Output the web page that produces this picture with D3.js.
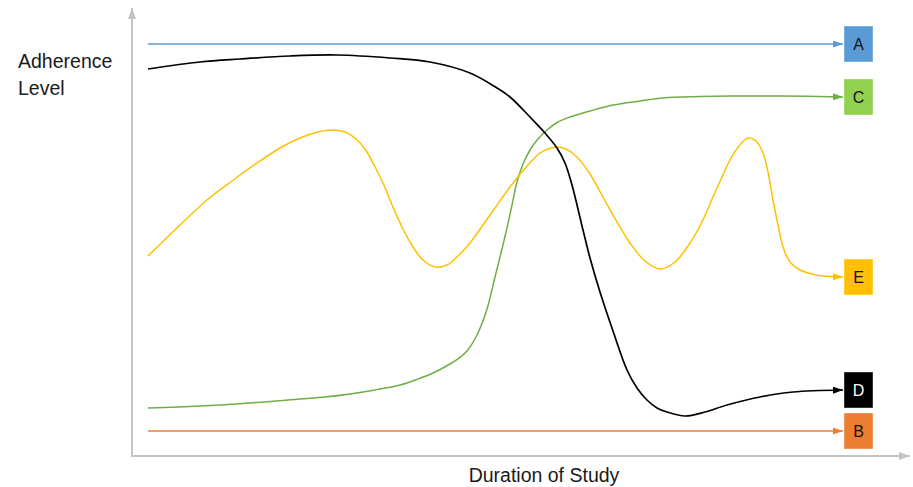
<!DOCTYPE html>
<html>
<head>
<meta charset="utf-8">
<script src="https://cdn.jsdelivr.net/npm/d3@7"></script>
<style>
  html, body { margin: 0; padding: 0; background: #fff; }
  #chart { width: 913px; height: 487px; }
</style>
</head>
<body>
<div id="chart"></div>
<script>
// series values: [time (study weeks), adherence level]
const seriesA = [[0, 103.25], [139, 103.25]];
const seriesB = [[0, 6.5], [139, 6.5]];
const seriesC = [
  [0, 12.25], [10.4, 12.75], [20.4, 13.5], [30.4, 14.5], [35.4, 15], [40.4, 15.75],
  [45.4, 16.75], [50.4, 18], [53.8, 19.4], [57, 21], [60.4, 23.25], [62.4, 24.9],
  [63.8, 26.5], [65.8, 30.5], [67.8, 37], [69.4, 45], [70.4, 50], [71.8, 57.25],
  [72.8, 63], [73.8, 68.75], [75, 73.25], [76.4, 76.75], [78, 79.5], [79.8, 81.75],
  [82, 83.75], [84.4, 85], [88.4, 86.5], [93, 88], [98.4, 89], [103, 89.75],
  [110.4, 90.1], [116.4, 90.25], [126.4, 90.25], [139, 90]
];
const seriesD = [
  [0, 97], [10.4, 98.75], [18.4, 99.5], [28.4, 100.25], [37.8, 100.5], [48.4, 99.75],
  [56.4, 98.75], [64.4, 96], [69.8, 92.25], [72.4, 90], [76.4, 85], [79.4, 81],
  [81.8, 77.25], [83.4, 73.5], [84.8, 68], [87, 56.75], [88.4, 49.75], [90.4, 41.25],
  [93, 31.5], [95.8, 21.75], [97.8, 17.25], [99.8, 14.25], [101.8, 12.25], [103.8, 11.25],
  [107.4, 10.25], [111.4, 11.25], [115.8, 13], [122.4, 15], [129, 16.25], [139, 16.75]
];
const seriesE = [
  [0, 50.25], [6, 57.5], [11.8, 64.25], [16.8, 69], [21.8, 73.5], [26.4, 77.25],
  [30.4, 79.75], [34, 81.25], [36.8, 81.75], [39.4, 81.25], [41.6, 79.5], [43.4, 77],
  [45, 73.5], [47, 68.5], [49, 62.5], [51, 57], [53, 52.5], [55, 49.25],
  [57.4, 47.5], [59.8, 48], [62, 50.25], [64.4, 53.5], [68.4, 60.5], [73, 68.5],
  [76, 73], [78.4, 76], [80, 77], [81.8, 77.5], [83.6, 77], [85.8, 75],
  [88.4, 70.75], [91, 65], [93.8, 58.75], [96.4, 53.5], [99.4, 49], [102.4, 47],
  [105.4, 48.75], [108.4, 53.5], [110.8, 58.75], [113, 65], [114.8, 70], [116.4, 74.25],
  [118.2, 77.75], [120, 79.75], [121.6, 79], [123, 76], [124, 71.25], [125, 64.25],
  [126, 58], [127, 52.5], [128.4, 48.75], [130.4, 46.75], [132.8, 45.75], [135, 45.25],
  [139, 45]
];

const seriesNames = ["A", "C", "E", "D", "B"];
const seriesData = [seriesA, seriesC, seriesE, seriesD, seriesB];
const lineColors = ["#5b9bd5", "#70ad47", "#ffc000", "#000000", "#ed7d31"];
const boxColors = ["#5b9bd5", "#92d050", "#ffc000", "#000000", "#ed7d31"];
const letterColors = ["#111", "#111", "#111", "#fff", "#111"];

const yTitle = ["Adherence", "Level"];
const xTitle = "Duration of Study";

const fullWidth = 913;
const fullHeight = 487;

const svg = d3.select("#chart")
  .append("svg")
  .attr("width", fullWidth)
  .attr("height", fullHeight)
  .style("font-family", "'Liberation Sans', Arial, sans-serif");

const x = d3.scaleLinear().domain([0, 139]).range([148, 843]);
const y = d3.scaleLinear().domain([0, 110]).range([457, 17]);

const axisX0 = 132;
const axisY0 = 456;

// === Markers ===
const defs = svg.append("defs");
seriesNames.forEach((name, i) => {
  defs.append("marker")
    .attr("id", "arrow-" + name)
    .attr("viewBox", "0 0 10 7")
    .attr("refX", 10)
    .attr("refY", 3.5)
    .attr("markerUnits", "userSpaceOnUse")
    .attr("markerWidth", 10)
    .attr("markerHeight", 7)
    .attr("orient", "auto")
    .append("path")
    .attr("d", "M0,0 L10,3.5 L0,7 Z")
    .attr("fill", lineColors[i]);
});
defs.append("marker")
  .attr("id", "arrow-axis")
  .attr("viewBox", "0 0 11 8")
  .attr("refX", 11)
  .attr("refY", 4)
  .attr("markerUnits", "userSpaceOnUse")
  .attr("markerWidth", 11)
  .attr("markerHeight", 8)
  .attr("orient", "auto")
  .append("path")
  .attr("d", "M0,0 L11,4 L0,8 Z")
  .attr("fill", "#c4c4c4");

// === Axes ===
svg.append("line")
  .attr("x1", axisX0).attr("y1", axisY0)
  .attr("x2", axisX0).attr("y2", 8)
  .attr("stroke", "#c4c4c4")
  .attr("stroke-width", 2)
  .attr("marker-end", "url(#arrow-axis)");

svg.append("line")
  .attr("x1", axisX0 - 1).attr("y1", axisY0)
  .attr("x2", 910).attr("y2", axisY0)
  .attr("stroke", "#c4c4c4")
  .attr("stroke-width", 2)
  .attr("marker-end", "url(#arrow-axis)");

// === Lines ===
const line = d3.line()
  .x((d) => x(d[0]))
  .y((d) => y(d[1]))
  .curve(d3.curveCatmullRom.alpha(0.5));

svg.append("g")
  .selectAll("path")
  .data(seriesData)
  .enter()
  .append("path")
  .attr("d", line)
  .attr("fill", "none")
  .attr("stroke", (d, i) => lineColors[i])
  .attr("stroke-width", (d, i) => (seriesNames[i] === "D" ? 1.7 : 1.5))
  .attr("marker-end", (d, i) => `url(#arrow-${seriesNames[i]})`);

// === Label boxes ===
const boxW = 29;
const boxH = 36;
const labels = svg.append("g")
  .selectAll("g")
  .data(seriesData)
  .enter()
  .append("g")
  .attr("transform", (d) => {
    const last = d[d.length - 1];
    return `translate(${x(last[0]) + 1}, ${y(last[1]) - boxH / 2})`;
  });

labels.append("rect")
  .attr("width", boxW)
  .attr("height", boxH)
  .attr("fill", (d, i) => boxColors[i])
  .attr("stroke", "#ffffff")
  .attr("stroke-opacity", 0.5)
  .attr("stroke-width", 0.8);

labels.append("text")
  .attr("x", boxW / 2)
  .attr("y", boxH / 2 + 6)
  .attr("text-anchor", "middle")
  .style("font-size", "16px")
  .style("fill", (d, i) => letterColors[i])
  .text((d, i) => seriesNames[i]);

// === Titles ===
svg.append("text")
  .attr("x", 18)
  .attr("y", 68)
  .style("font-size", "19.5px")
  .style("fill", "#1a1a1a")
  .selectAll("tspan")
  .data(yTitle)
  .enter()
  .append("tspan")
  .attr("x", 18)
  .attr("dy", (d, i) => (i === 0 ? 0 : 27))
  .text((d) => d);

svg.append("text")
  .attr("x", 544)
  .attr("y", 482)
  .attr("text-anchor", "middle")
  .style("font-size", "19.5px")
  .style("fill", "#1a1a1a")
  .text(xTitle);
</script>
</body>
</html>
